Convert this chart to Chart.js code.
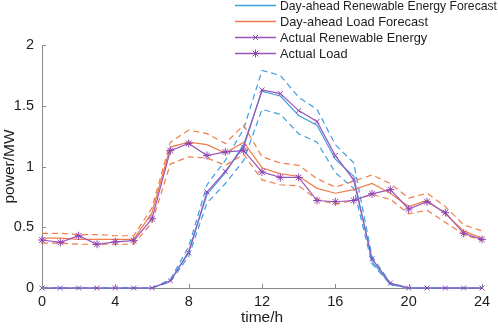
<!DOCTYPE html>
<html>
<head>
<meta charset="utf-8">
<script src="https://cdn.jsdelivr.net/npm/chart.js@4.4.1/dist/chart.umd.min.js"></script>
<style>
  html, body { margin: 0; padding: 0; background: #fff; }
  #wrap { width: 498px; height: 328px; }
</style>
</head>
<body>
<div id="wrap"><canvas id="chart"></canvas></div>
<script>
// hours of the day
const hours = [0, 1, 2, 3, 4, 5, 6, 7, 8, 9, 10, 11, 12, 13, 14, 15, 16, 17, 18, 19, 20, 21, 22, 23, 24];

// renewable energy (MW)
const renForecast = [0, 0, 0, 0, 0, 0, 0, 0.06, 0.30, 0.77, 0.95, 1.18, 1.62, 1.58, 1.42, 1.34, 1.06, 0.92, 0.22, 0.03, 0, 0, 0, 0, 0];
const renUpper    = [0, 0, 0, 0, 0, 0, 0, 0.07, 0.34, 0.85, 1.05, 1.31, 1.79, 1.75, 1.57, 1.47, 1.18, 1.03, 0.26, 0.04, 0, 0, 0, 0, 0];
const renLower    = [0, 0, 0, 0, 0, 0, 0, 0.05, 0.26, 0.70, 0.86, 1.05, 1.47, 1.43, 1.27, 1.20, 0.95, 0.82, 0.20, 0.03, 0, 0, 0, 0, 0];
const renActual   = [0, 0, 0, 0, 0, 0, 0, 0.06, 0.29, 0.79, 0.96, 1.16, 1.63, 1.60, 1.46, 1.37, 1.09, 0.89, 0.24, 0.04, 0, 0, 0, 0, 0];

// load (MW)
const loadForecast = [0.41, 0.41, 0.40, 0.40, 0.40, 0.40, 0.62, 1.16, 1.20, 1.18, 1.11, 1.20, 0.99, 0.94, 0.92, 0.82, 0.78, 0.81, 0.86, 0.78, 0.67, 0.72, 0.61, 0.47, 0.41];
const loadUpper    = [0.45, 0.45, 0.44, 0.44, 0.43, 0.43, 0.66, 1.20, 1.30, 1.27, 1.19, 1.34, 1.08, 1.03, 1.01, 0.90, 0.83, 0.88, 0.93, 0.86, 0.74, 0.78, 0.67, 0.52, 0.47];
const loadLower    = [0.37, 0.37, 0.36, 0.36, 0.36, 0.36, 0.54, 1.02, 1.08, 1.07, 1.01, 1.10, 0.89, 0.85, 0.84, 0.73, 0.69, 0.72, 0.77, 0.73, 0.61, 0.64, 0.54, 0.44, 0.39];
const loadActual   = [0.395, 0.375, 0.43, 0.36, 0.38, 0.39, 0.57, 1.13, 1.19, 1.09, 1.12, 1.13, 0.955, 0.91, 0.91, 0.72, 0.71, 0.72, 0.775, 0.81, 0.65, 0.71, 0.62, 0.45, 0.40];

const xTicks = [0, 4, 8, 12, 16, 20, 24];
const yTicks = [0, 0.5, 1, 1.5, 2];

const legendLabels = ['Day-ahead Renewable Energy Forecast', 'Day-ahead Load Forecast', 'Actual Renewable Energy', 'Actual Load'];

const BLUE = '#3d9ee0';
const ORANGE = '#ef7d4a';
const PURPLE = '#9a55bb';
const MARK = '#8e44b0';
const AXIS = '#8a8a8a';
const TEXT = '#1e1e1e';
const FONT = '"Liberation Sans", Arial, Helvetica, sans-serif';

const pts = arr => arr.map((v, i) => ({ x: hours[i], y: v }));

function line(data, color, opts) {
  return Object.assign({
    data: pts(data),
    borderColor: color,
    backgroundColor: color,
    borderWidth: 1.2,
    pointRadius: 0,
    tension: 0,
    fill: false,
    clip: false
  }, opts || {});
}

// first dataset is drawn on top
const datasets = [
  line(loadActual, PURPLE, { pointStyle: 'star', pointRadius: 4, pointBorderWidth: 1, pointBorderColor: MARK }),
  line(renActual, PURPLE, { pointStyle: 'crossRot', pointRadius: 3.5, pointBorderWidth: 1, pointBorderColor: MARK }),
  line(loadForecast, ORANGE),
  line(loadUpper, ORANGE, { borderDash: [6, 4] }),
  line(loadLower, ORANGE, { borderDash: [6, 4] }),
  line(renForecast, BLUE),
  line(renUpper, BLUE, { borderDash: [6, 4] }),
  line(renLower, BLUE, { borderDash: [6, 4] })
];

// ticks pointing into the plot, like the original
const inwardTicks = {
  id: 'inwardTicks',
  afterDatasetsDraw(chart) {
    const { ctx, chartArea, scales } = chart;
    ctx.save();
    ctx.strokeStyle = AXIS;
    ctx.lineWidth = 1;
    ctx.beginPath();
    scales.x.ticks.forEach((t, i) => {
      const px = Math.round(scales.x.getPixelForTick(i)) + 0.5;
      ctx.moveTo(px, chartArea.bottom);
      ctx.lineTo(px, chartArea.bottom - 4);
    });
    scales.y.ticks.forEach((t, i) => {
      const py = Math.round(scales.y.getPixelForTick(i)) + 0.5;
      ctx.moveTo(chartArea.left, py);
      ctx.lineTo(chartArea.left + 4, py);
    });
    ctx.stroke();
    ctx.restore();
  }
};

function marker(ctx, style, cx, cy, r) {
  ctx.beginPath();
  const d = r * Math.SQRT1_2;
  if (style === 'star') {
    ctx.moveTo(cx - r, cy); ctx.lineTo(cx + r, cy);
    ctx.moveTo(cx, cy - r); ctx.lineTo(cx, cy + r);
  }
  ctx.moveTo(cx - d, cy - d); ctx.lineTo(cx + d, cy + d);
  ctx.moveTo(cx + d, cy - d); ctx.lineTo(cx - d, cy + d);
  ctx.stroke();
}

// legend in the upper right corner, partly over the plot
const cornerLegend = {
  id: 'cornerLegend',
  afterDraw(chart) {
    const { ctx } = chart;
    const colors = [BLUE, ORANGE, PURPLE, PURPLE];
    const markers = [null, null, 'crossRot', 'star'];
    ctx.save();
    ctx.fillStyle = '#fff';
    ctx.fillRect(232, 0, 266, 61);
    ctx.font = '12.8px ' + FONT;
    ctx.textBaseline = 'middle';
    for (let i = 0; i < 4; i++) {
      const y = 5.5 + i * 16;
      ctx.setLineDash([]);
      ctx.strokeStyle = colors[i];
      ctx.lineWidth = 1.3;
      ctx.beginPath();
      ctx.moveTo(235, y);
      ctx.lineTo(276, y);
      ctx.stroke();
      if (markers[i]) {
        ctx.strokeStyle = MARK;
        ctx.lineWidth = 1;
        marker(ctx, markers[i], 255.5, y, markers[i] === 'star' ? 4 : 3.5);
      }
      ctx.fillStyle = TEXT;
      ctx.fillText(legendLabels[i], 280, y + 0.5, 217);
    }
    ctx.restore();
  }
};

new Chart(document.getElementById('chart'), {
  type: 'line',
  data: { datasets: datasets },
  options: {
    responsive: true,
    maintainAspectRatio: false,
    animation: false,
    layout: { padding: { top: 45, right: 16, left: 0, bottom: 0 } },
    plugins: {
      legend: { display: false },
      tooltip: { enabled: false }
    },
    scales: {
      x: {
        type: 'linear',
        min: 0,
        max: 24,
        afterFit: s => { s.height = 40; },
        afterBuildTicks: s => { s.ticks = xTicks.map(v => ({ value: v })); },
        grid: { display: false, drawTicks: false },
        border: { display: true, color: AXIS, width: 1 },
        ticks: { color: TEXT, padding: 5, font: { family: FONT, size: 14.5 }, callback: v => String(v) },
        title: { display: true, text: 'time/h', color: TEXT, padding: { top: 0, bottom: 1 }, font: { family: FONT, size: 15.5 } }
      },
      y: {
        min: 0,
        max: 2,
        afterFit: s => { s.width = 42; },
        afterBuildTicks: s => { s.ticks = yTicks.map(v => ({ value: v })); },
        grid: { display: false, drawTicks: false },
        border: { display: true, color: AXIS, width: 1 },
        ticks: { color: TEXT, padding: 8, font: { family: FONT, size: 14.5 }, callback: v => String(v) },
        title: { display: true, text: 'power/MW', color: TEXT, padding: { top: 0, bottom: 2 }, font: { family: FONT, size: 15.5 } }
      }
    }
  },
  plugins: [inwardTicks, cornerLegend]
});
</script>
</body>
</html>
